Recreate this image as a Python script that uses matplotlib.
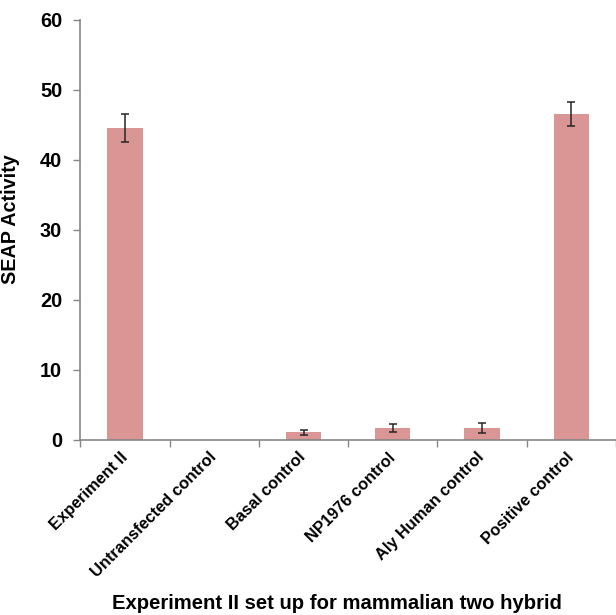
import matplotlib.pyplot as plt
import numpy as np

# categories and values
categories = ["Experiment II", "Untransfected control", "Basal control",
              "NP1976 control", "Aly Human control", "Positive control"]
seap = [44.5, 0.0, 1.05, 1.7, 1.7, 46.5]
seap_err = [2.0, 0.0, 0.4, 0.6, 0.7, 1.75]
yticks = [0, 10, 20, 30, 40, 50, 60]

plt.rcParams['font.family'] = ['Liberation Sans', 'DejaVu Sans']

fig = plt.figure(figsize=(6.16, 6.15), dpi=100)
ax = fig.add_axes([0.1304, 0.285, 0.8696, 0.683])

x = np.arange(len(categories))
ax.bar(x, seap, width=0.395, color="#D99694", linewidth=0, zorder=2)
# no error bar where there is no signal (untransfected)
has_err = np.array(seap_err) > 0
ax.errorbar(x[has_err], np.array(seap)[has_err], yerr=np.array(seap_err)[has_err],
            fmt="none", ecolor="#262626", elinewidth=1.1, capsize=3.2,
            capthick=1.1, zorder=3)

ax.set_xlim(-0.5, len(categories) - 0.5)
ax.set_ylim(0, 60)
ax.set_yticks(yticks)
ax.set_yticklabels([str(v) for v in yticks], fontsize=14.4, fontweight="bold")

# ticks at the category boundaries, labels at the centres
ax.set_xticks(np.arange(len(categories) + 1) - 0.5)
ax.set_xticklabels([])
ax.set_xticks(x, minor=True)
ax.set_xticklabels(categories, minor=True, rotation=45, ha="right", va="center",
                   rotation_mode="anchor", fontsize=11.8, fontweight="bold")
ax.tick_params(axis="x", which="minor", length=0, pad=11)
ax.tick_params(axis="both", which="major", color="#868686", length=5, width=1)
ax.tick_params(axis="y", pad=8)

for side in ["top", "right"]:
    ax.spines[side].set_visible(False)
for side in ["left", "bottom"]:
    ax.spines[side].set_color("#868686")
    ax.spines[side].set_linewidth(1.2)

ax.set_ylabel("SEAP Activity", fontsize=14.2, fontweight="bold")
ax.yaxis.set_label_coords(-0.1126, 0.524)
ax.set_xlabel("Experiment II set up for mammalian two hybrid", fontsize=14.6, fontweight="bold")
ax.xaxis.set_label_coords(0.479, -0.368)

fig.savefig("out.png", dpi=100)
